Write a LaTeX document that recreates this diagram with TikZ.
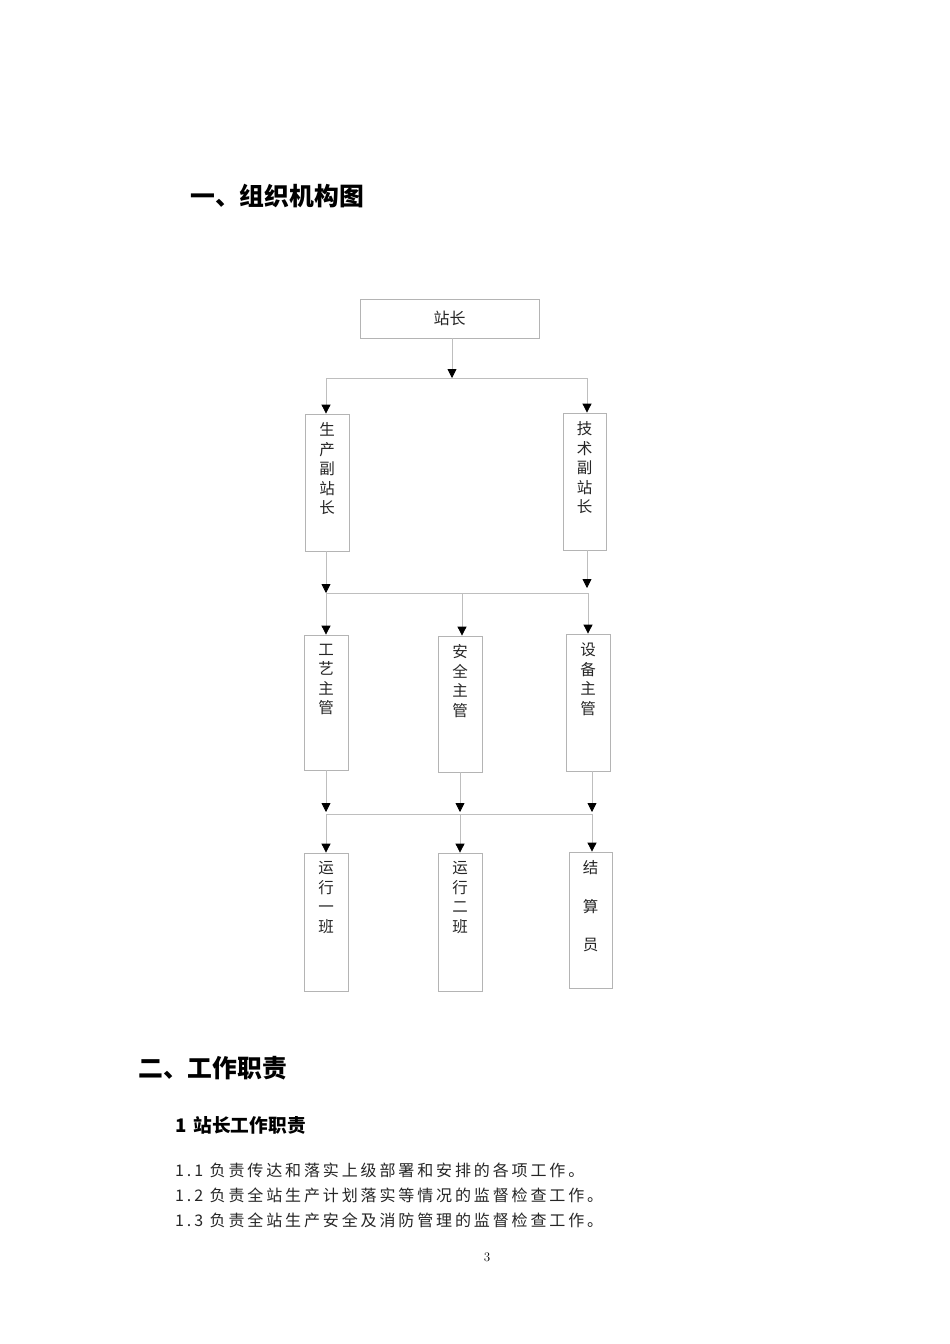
\documentclass[tikz,border=0pt]{standalone}
\usepackage{fontspec}
\newfontfamily\cjk{Noto Sans CJK SC}
\newfontfamily\cjksp{Noto Sans CJK SC}[LetterSpace=18]
\usetikzlibrary{arrows.meta}
\definecolor{boxgray}{HTML}{B4B4B4}
\definecolor{linegray}{HTML}{BEBEBE}
\begin{document}
\begin{tikzpicture}[x=1pt,y=-1pt,
  box/.style={draw=boxgray, line width=0.8pt, inner sep=0pt, minimum width=44pt, minimum height=137pt},
  conn/.style={draw=linegray, line width=0.8pt},
  arr/.style={conn, -{Triangle[width=9pt,length=9pt,color=black]}},
  vtext/.style={anchor=north, align=center, inner sep=0pt, text=black!85, font=\cjk\fontsize{15.5}{19.5}\selectfont},
  heading/.style={anchor=west, inner sep=0pt, font=\cjk\bfseries\fontsize{24.8}{28}\selectfont},
  subhead/.style={anchor=west, inner sep=0pt, font=\cjk\bfseries\fontsize{18.7}{22}\selectfont},
  body/.style={anchor=west, inner sep=0pt, text=black!85, font=\cjksp\fontsize{16}{20}\selectfont}]
\fill[white] (0,0) rectangle (950,1344);
\useasboundingbox (0,0) rectangle (950,1344);

% headings and text
\node[heading] (h1) at (190,196) {一、组织机构图};
\node[heading] (h2) at (138,1068) {二、工作职责};
\node[subhead] (s1) at (175,1125) {1\hspace{7pt}站长工作职责};
\node[body] (l1) at (175,1170) {1.1 负责传达和落实上级部署和安排的各项工作。};
\node[body] (l2) at (175,1195) {1.2 负责全站生产计划落实等情况的监督检查工作。};
\node[body] (l3) at (175,1220) {1.3 负责全站生产安全及消防管理的监督检查工作。};
\node[inner sep=0pt, font=\fontsize{13}{15}\selectfont] (pg) at (487,1257) {3};

% boxes
\node[box, minimum width=179pt, minimum height=39pt, text=black!85, font=\cjk\fontsize{16}{19}\selectfont] (zz) at (449.5,318.5) {站长};
\node[box] (fz1) at (327,482.5) {};
\node[box, minimum width=43pt] (fz2) at (584.5,481.5) {};
\node[box, minimum height=135pt] (gy) at (326,702.5) {};
\node[box, minimum height=136pt] (aq) at (460,704) {};
\node[box] (sb) at (588,702.5) {};
\node[box, minimum height=138pt] (yx1) at (326,922) {};
\node[box, minimum height=138pt] (yx2) at (460,922) {};
\node[box, minimum width=43pt, minimum height=136pt] (js) at (590.5,920) {};

% box texts
\node[vtext] (fz1t) at ([yshift=-9pt]fz1.north) {生\\产\\副\\站\\长};
\node[vtext] (fz2t) at ([yshift=-9pt]fz2.north) {技\\术\\副\\站\\长};
\node[vtext] (gyt) at ([yshift=-9pt]gy.north) {工\\艺\\主\\管};
\node[vtext] (aqt) at ([yshift=-9pt]aq.north) {安\\全\\主\\管};
\node[vtext] (sbt) at ([yshift=-9pt]sb.north) {设\\备\\主\\管};
\node[vtext] (yx1t) at ([yshift=-9pt]yx1.north) {运\\行\\一\\班};
\node[vtext] (yx2t) at ([yshift=-9pt]yx2.north) {运\\行\\二\\班};
\node[vtext, font=\cjk\fontsize{15.5}{38.5}\selectfont] (jst) at ([yshift=-9pt]js.north) {结\\算\\员};

% junction coordinates
\coordinate (j1) at (452,378);
\coordinate (h1L) at (326,378);
\coordinate (h1R) at (587,378);
\coordinate (h2L) at (326,593);
\coordinate (h2R) at (588,593);
\coordinate (j2R) at (587,588);
\coordinate (h3L) at (326,814);
\coordinate (h3R) at (592,814);
\coordinate (j3) at (0,812);

% level 1
\draw[arr] (zz.south -| j1) -- (j1);
\draw[conn] (h1L) -- (h1R);
\draw[arr] (h1L) -- (h1L |- fz1.north);
\draw[arr] (h1R) -- (h1R |- fz2.north);

% level 2
\draw[arr] (fz1.south -| h2L) -- (h2L);
\draw[arr] (fz2.south -| j2R) -- (j2R);
\draw[conn] (h2L) -- (h2R);
\draw[arr] (h2L) -- (h2L |- gy.north);
\draw[arr] (h2L -| 462,0) -- (462,0 |- aq.north);
\draw[arr] (h2R) -- (h2R |- sb.north);

% level 3
\draw[arr] (gy.south -| h3L) -- (h3L |- j3);
\draw[arr] (aq.south) -- (aq.south |- j3);
\draw[arr] (sb.south -| h3R) -- (h3R |- j3);
\draw[conn] (h3L) -- (h3R);
\draw[arr] (h3L) -- (h3L |- yx1.north);
\draw[arr] (h3L -| aq.south) -- (aq.south |- yx2.north);
\draw[arr] (h3R) -- (h3R |- js.north);
\end{tikzpicture}
\end{document}
